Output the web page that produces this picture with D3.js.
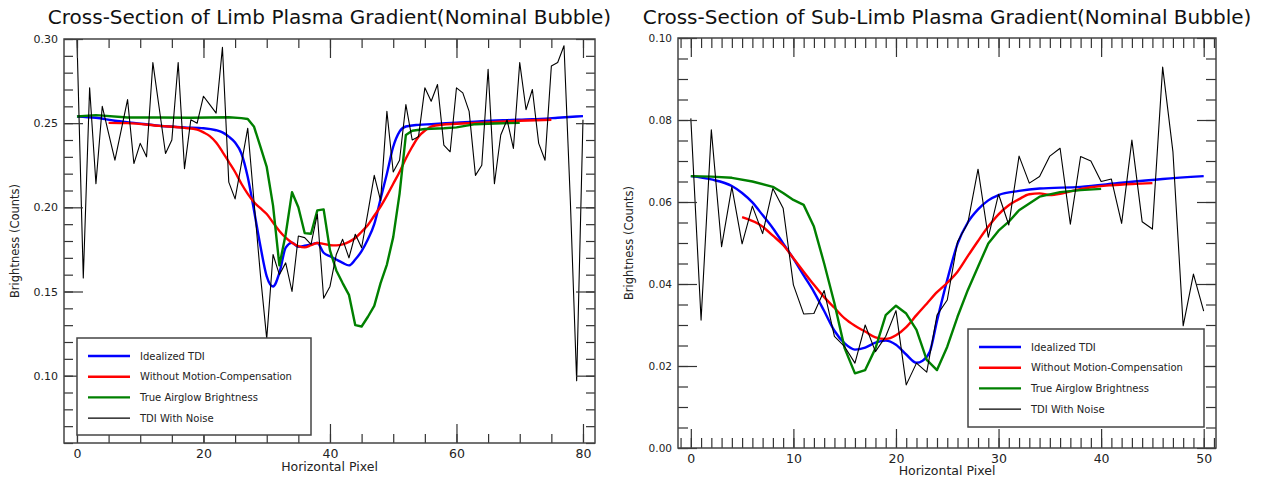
<!DOCTYPE html>
<html>
<head>
<meta charset="utf-8">
<script src="https://cdn.jsdelivr.net/npm/d3@7"></script>
<style>
  body { margin: 0; background: #fff; }
  svg { display: block; font-family: "DejaVu Sans", sans-serif; }
</style>
</head>
<body>
<svg id="chart" width="1262" height="479"></svg>
<script>
// names shared by both panels
let seriesNames = ["Idealized TDI", "Without Motion-Compensation", "True Airglow Brightness", "TDI With Noise"]
let seriesColors = ["#0000ff", "#ff0000", "#008000", "#000000"]

// ---- limb panel ----
let limbNoise = [
  0.300, 0.158, 0.271, 0.214, 0.260, 0.244, 0.228, 0.246, 0.264, 0.226,
  0.238, 0.230, 0.286, 0.259, 0.232, 0.240, 0.286, 0.223, 0.252, 0.250,
  0.266, 0.261, 0.256, 0.295, 0.215, 0.205, 0.226, 0.247, 0.203, 0.160,
  0.122, 0.172, 0.160, 0.167, 0.150, 0.183, 0.182, 0.178, 0.196, 0.146,
  0.153, 0.172, 0.181, 0.170, 0.184, 0.176, 0.197, 0.219, 0.204, 0.257,
  0.221, 0.228, 0.261, 0.240, 0.242, 0.271, 0.263, 0.273, 0.237, 0.233,
  0.271, 0.268, 0.257, 0.219, 0.225, 0.282, 0.214, 0.243, 0.252, 0.235,
  0.286, 0.258, 0.270, 0.238, 0.228, 0.284, 0.286, 0.296, 0.204, 0.097,
  0.252
]
let limbIdealX = [0, 3, 6, 9, 13, 17, 20, 22, 23, 24, 25, 26, 27, 28, 29, 30, 31, 32, 33, 34, 35, 36, 37, 38, 39, 40, 41, 42, 43, 44, 45, 46, 47, 48, 49, 50, 51, 52, 54, 56, 60, 64, 68, 72, 76, 80]
let limbIdealY = [0.254, 0.2532, 0.2514, 0.2502, 0.2485, 0.2475, 0.247, 0.2458, 0.2445, 0.242, 0.2385, 0.232, 0.218, 0.198, 0.177, 0.159, 0.153, 0.161, 0.176, 0.179, 0.1765, 0.1772, 0.178, 0.1788, 0.173, 0.171, 0.169, 0.167, 0.1655, 0.169, 0.174, 0.181, 0.19, 0.205, 0.22, 0.236, 0.245, 0.248, 0.249, 0.2494, 0.2503, 0.2512, 0.2518, 0.2523, 0.2532, 0.2542]
let limbNoMcX = [5, 8, 13, 17, 19, 20, 21, 22, 23, 24, 25, 26, 27, 28, 29, 30, 31, 32, 33, 34, 35, 36, 37, 38, 39, 40, 41, 42, 43, 44, 45, 46, 47, 48, 49, 50, 51, 52, 53, 54, 55, 56, 58, 61, 65, 70, 75]
let limbNoMcY = [0.2502, 0.25, 0.2484, 0.2472, 0.2462, 0.2445, 0.2423, 0.2385, 0.233, 0.227, 0.221, 0.214, 0.208, 0.203, 0.1995, 0.196, 0.191, 0.186, 0.182, 0.179, 0.177, 0.1762, 0.1775, 0.1788, 0.1783, 0.1775, 0.1774, 0.178, 0.1795, 0.1818, 0.1855, 0.1895, 0.195, 0.2005, 0.207, 0.214, 0.221, 0.229, 0.236, 0.242, 0.2455, 0.248, 0.2492, 0.2498, 0.2505, 0.2514, 0.252]
let limbTrueX = [0, 3, 8, 13, 18, 24, 26, 27, 28, 29, 30, 31, 32, 33, 34, 35, 36, 37, 38, 39, 40, 41, 42, 43, 44, 45, 46, 47, 48, 49, 50, 51, 52, 53, 55, 58, 60, 63, 66, 70]
let limbTrueY = [0.254, 0.2548, 0.2534, 0.2534, 0.2532, 0.2535, 0.253, 0.2525, 0.2478, 0.236, 0.224, 0.201, 0.1655, 0.184, 0.209, 0.2, 0.1847, 0.1843, 0.1982, 0.1988, 0.1744, 0.1625, 0.155, 0.148, 0.13, 0.1292, 0.135, 0.1415, 0.155, 0.166, 0.1823, 0.208, 0.243, 0.2455, 0.2465, 0.247, 0.2475, 0.2494, 0.2498, 0.2502]
let limbXTicks = [0, 20, 40, 60, 80]
let limbYTicks = [0.10, 0.15, 0.20, 0.25, 0.30]

// ---- sub-limb panel ----
let subNoise = [
  0.0804, 0.0312, 0.0776, 0.0491, 0.0637, 0.0498, 0.059, 0.0523, 0.0633, 0.0585,
  0.0398, 0.0327, 0.0328, 0.0384, 0.0272, 0.0247, 0.0207, 0.030, 0.0235, 0.0272,
  0.0335, 0.0154, 0.0207, 0.0185, 0.0324, 0.0361, 0.0503, 0.0548, 0.068, 0.0514,
  0.0619, 0.0544, 0.0712, 0.0646, 0.0662, 0.0712, 0.0731, 0.0546, 0.0711, 0.070,
  0.065, 0.0656, 0.0548, 0.0751, 0.0552, 0.0534, 0.0929, 0.0723, 0.0298, 0.0424,
  0.0334
]
let subIdealX = [0, 2, 4, 5, 6, 7, 8, 9, 10, 11, 12, 13, 14, 15, 16, 17, 18, 19, 20, 21, 22, 22.6, 23.3, 24, 25, 26, 27, 28, 29, 30, 32, 34, 38, 42, 46, 50]
let subIdealY = [0.0663, 0.0655, 0.0639, 0.0622, 0.0599, 0.0568, 0.0536, 0.0499, 0.0462, 0.0421, 0.0381, 0.0334, 0.0286, 0.0255, 0.024, 0.0245, 0.0257, 0.0262, 0.0252, 0.0228, 0.0208, 0.0213, 0.0235, 0.031, 0.041, 0.0498, 0.055, 0.0582, 0.0604, 0.0617, 0.0627, 0.0633, 0.0637, 0.0647, 0.0656, 0.0663]
let subNoMcX = [5, 7, 8, 9, 10, 11, 12, 13, 14, 15, 16, 17, 18, 19, 20, 21, 22, 23, 24, 25, 26, 27, 28, 29, 30, 31, 32, 33, 34, 35, 36, 37, 39, 41, 43, 45]
let subNoMcY = [0.0563, 0.054, 0.0518, 0.0495, 0.0463, 0.043, 0.0398, 0.0368, 0.0342, 0.0316, 0.0298, 0.0284, 0.027, 0.0266, 0.0275, 0.0295, 0.0324, 0.0352, 0.038, 0.0403, 0.043, 0.0468, 0.0505, 0.054, 0.057, 0.0592, 0.0607, 0.0619, 0.0621, 0.0617, 0.062, 0.0626, 0.0636, 0.0641, 0.0644, 0.0646]
let subTrueX = [0, 2, 4, 6, 8, 9, 10, 11, 12, 13, 14, 15, 16, 17, 18, 19, 20, 21, 22, 23, 24, 25, 26, 27, 28, 29, 30, 31, 32, 34, 36, 38, 40]
let subTrueY = [0.0663, 0.0662, 0.0659, 0.065, 0.0637, 0.0622, 0.0605, 0.0593, 0.054, 0.045, 0.0353, 0.0243, 0.0182, 0.019, 0.0243, 0.0324, 0.0347, 0.0328, 0.0288, 0.0215, 0.019, 0.0247, 0.032, 0.0385, 0.0442, 0.0499, 0.053, 0.0552, 0.058, 0.0613, 0.0624, 0.0629, 0.0632]
let subXTicks = [0, 10, 20, 30, 40, 50]
let subYTicks = [0.00, 0.02, 0.04, 0.06, 0.08, 0.10]

let svg = d3.select("#chart")

function drawPanel(p) {
    let x = d3.scaleLinear().domain(p.xDomain).range([p.left, p.right])
    let y = d3.scaleLinear().domain(p.yDomain).range([p.bottom, p.top])

    svg.append("clipPath")
        .attr("id", "clip-" + p.id)
        .append("rect")
        .attr("x", p.left)
        .attr("y", p.top)
        .attr("width", p.right - p.left)
        .attr("height", p.bottom - p.top)

    let plot = svg.append("g").attr("clip-path", "url(#clip-" + p.id + ")")

    p.series.forEach((s, i) => {
        let line = d3.line()
            .x(d => x(d[0]))
            .y(d => y(d[1]))
            .curve(s.smooth ? d3.curveMonotoneX : d3.curveLinear)
        plot.append("path")
            .datum(d3.zip(s.x, s.y))
            .attr("fill", "none")
            .attr("stroke", seriesColors[i])
            .attr("stroke-width", i == 3 ? 1.1 : 2.4)
            .attr("stroke-linejoin", "round")
            .attr("d", line)
    })

    // ticks point inward on all four sides, long ones carry labels
    let ticks = (axis, scale, values, len, pos, labels) => {
        let a = axis(scale)
            .tickValues(values)
            .tickSize(-len)
            .tickSizeOuter(0)
            .tickPadding(labels ? p.pad : 0)
            .tickFormat(labels ? labels : "")
        let g = svg.append("g")
            .attr("transform", pos)
            .call(a)
        g.select(".domain").remove()
        g.selectAll(".tick line").attr("stroke", "#333").attr("stroke-width", 1.2)
        g.selectAll("text").attr("fill", "#222").attr("font-family", "DejaVu Sans")
        return g
    }

    let xBottom = "translate(0," + p.bottom + ")"
    let xTop = "translate(0," + p.top + ")"
    let yLeft = "translate(" + p.left + ",0)"
    let yRight = "translate(" + p.right + ",0)"

    ticks(d3.axisBottom, x, p.xMinor, p.minorLen, xBottom)
    ticks(d3.axisBottom, x, p.xTicks, 19, xBottom, d3.format("d"))
        .selectAll("text").attr("font-size", 12.5)
    ticks(d3.axisTop, x, p.xMinor, p.minorLen, xTop)
    ticks(d3.axisTop, x, p.xTicks, 19, xTop)
    ticks(d3.axisLeft, y, p.yMinor, p.minorLen, yLeft)
    ticks(d3.axisLeft, y, p.yTicks, 19, yLeft, d3.format(".2f"))
        .selectAll("text").attr("font-size", p.yFont)
    ticks(d3.axisRight, y, p.yMinor, p.minorLen, yRight)
    ticks(d3.axisRight, y, p.yTicks, 19, yRight)

    svg.append("rect")
        .attr("x", p.left)
        .attr("y", p.top)
        .attr("width", p.right - p.left)
        .attr("height", p.bottom - p.top)
        .attr("fill", "none")
        .attr("stroke", "#444")
        .attr("stroke-width", 1.5)

    svg.append("text")
        .attr("x", (p.left + p.right) / 2)
        .attr("y", 24)
        .attr("text-anchor", "middle")
        .attr("font-size", 20)
        .attr("fill", "#111")
        .text(p.title)

    svg.append("text")
        .attr("x", (p.left + p.right) / 2)
        .attr("y", p.bottom + p.xTitleGap)
        .attr("text-anchor", "middle")
        .attr("font-size", 12.5)
        .attr("fill", "#222")
        .text("Horizontal Pixel")

    svg.append("text")
        .attr("transform", "translate(" + p.yTitleX + "," + (p.top + p.bottom) / 2 + ") rotate(-90)")
        .attr("text-anchor", "middle")
        .attr("font-size", 11.5)
        .attr("fill", "#222")
        .text("Brightness (Counts)")

    let lg = svg.append("g").attr("transform", "translate(" + p.legend[0] + "," + p.legend[1] + ")")
    lg.append("rect")
        .attr("width", p.legend[2])
        .attr("height", p.legend[3])
        .attr("fill", "#fff")
        .attr("stroke", "#444")
        .attr("stroke-width", 1.5)
    seriesNames.forEach((name, i) => {
        let ry = 18 + i * 20.7
        lg.append("line")
            .attr("x1", 11)
            .attr("x2", 53)
            .attr("y1", ry)
            .attr("y2", ry)
            .attr("stroke", seriesColors[i])
            .attr("stroke-width", i == 3 ? 1.1 : 2.4)
        lg.append("text")
            .attr("x", 63)
            .attr("y", ry)
            .attr("dy", "0.35em")
            .attr("font-size", 10)
            .attr("fill", "#222")
            .text(name)
    })
}

drawPanel({
    id: "limb",
    title: "Cross-Section of Limb Plasma Gradient(Nominal Bubble)",
    left: 64, right: 595, top: 39, bottom: 443,
    xDomain: [-2.05, 81.9], yDomain: [0.06, 0.30],
    xTicks: limbXTicks, xMinor: d3.range(0, 81, 5),
    yTicks: limbYTicks, yMinor: d3.range(6, 31).map(d => d / 100),
    minorLen: 9, pad: 6, yFont: 11,
    xTitleGap: 28, yTitleX: 19,
    legend: [77, 338, 234, 97],
    series: [
        { x: limbIdealX, y: limbIdealY, smooth: true },
        { x: limbNoMcX, y: limbNoMcY, smooth: true },
        { x: limbTrueX, y: limbTrueY },
        { x: limbNoise.map((d, i) => i), y: limbNoise }
    ]
})

drawPanel({
    id: "sub",
    title: "Cross-Section of Sub-Limb Plasma Gradient(Nominal Bubble)",
    left: 678, right: 1216, top: 38, bottom: 448,
    xDomain: [-1.25, 51.2], yDomain: [0, 0.10],
    xTicks: subXTicks, xMinor: d3.range(-1, 52, 1),
    yTicks: subYTicks, yMinor: d3.range(0, 21).map(d => d * 0.005),
    minorLen: 10, pad: 6, yFont: 10.5,
    xTitleGap: 27, yTitleX: 633,
    legend: [968, 329, 236, 98],
    series: [
        { x: subIdealX, y: subIdealY, smooth: true },
        { x: subNoMcX, y: subNoMcY, smooth: true },
        { x: subTrueX, y: subTrueY },
        { x: subNoise.map((d, i) => i), y: subNoise }
    ]
})
</script>
</body>
</html>
